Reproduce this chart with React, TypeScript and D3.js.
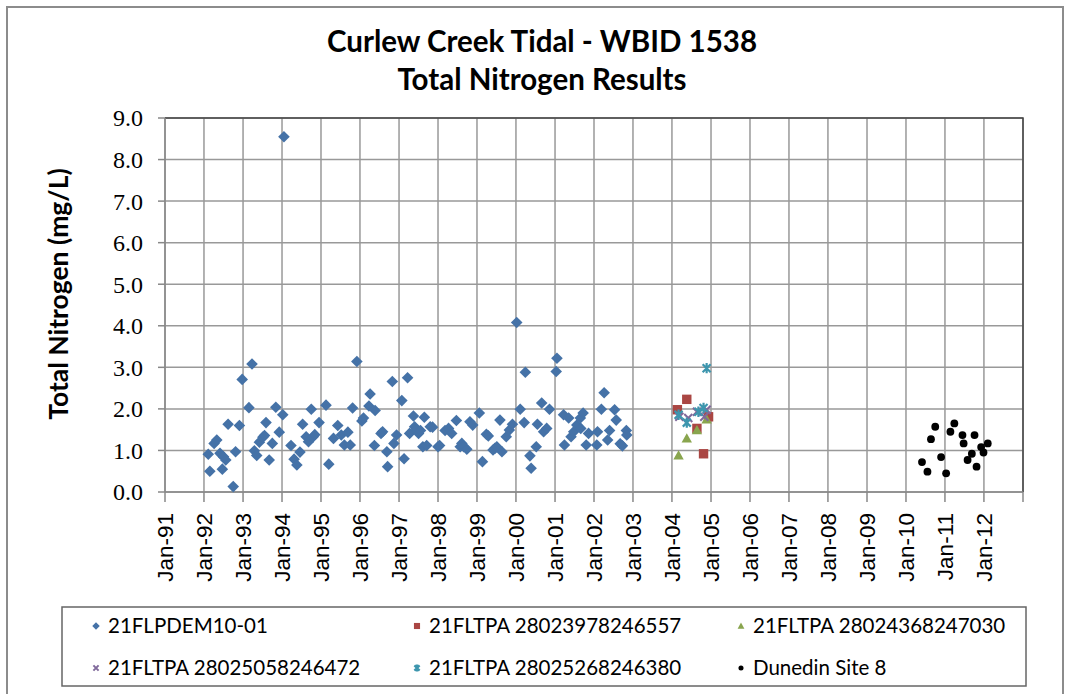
import * as d3 from "d3";

// [decimal year, mg/L]
const dem1001: [number, number][] = [
  [1992.11, 0.91], [1992.15, 0.5], [1992.26, 1.17], [1992.33, 1.25], [1992.41, 0.93],
  [1992.47, 0.55], [1992.5, 0.85], [1992.56, 0.77], [1992.62, 1.63], [1992.75, 0.13],
  [1992.81, 0.97], [1992.91, 1.6], [1992.98, 2.71], [1993.15, 2.03], [1993.23, 3.08],
  [1993.29, 0.99], [1993.35, 0.88], [1993.42, 1.2], [1993.51, 1.32], [1993.55, 1.36],
  [1993.59, 1.67], [1993.67, 0.77], [1993.75, 1.17], [1993.84, 2.04], [1993.93, 1.44],
  [1994.02, 1.86], [1994.05, 8.55], [1994.23, 1.12], [1994.31, 0.79], [1994.38, 0.65],
  [1994.46, 0.96], [1994.53, 1.63], [1994.62, 1.33], [1994.68, 1.21], [1994.75, 1.99],
  [1994.8, 1.33], [1994.84, 1.38], [1994.95, 1.67], [1995.13, 2.09], [1995.2, 0.67],
  [1995.32, 1.29], [1995.43, 1.6], [1995.52, 1.37], [1995.6, 1.13], [1995.69, 1.44],
  [1995.75, 1.13], [1995.81, 2.02], [1995.92, 3.14], [1996.05, 1.71], [1996.09, 1.78],
  [1996.23, 2.07], [1996.26, 2.36], [1996.37, 1.12], [1996.39, 1.96], [1996.54, 1.41],
  [1996.58, 1.45], [1996.69, 0.97], [1996.71, 0.61], [1996.83, 2.66], [1996.87, 1.17],
  [1996.94, 1.37], [1997.07, 2.2], [1997.13, 0.8], [1997.22, 2.75], [1997.27, 1.41],
  [1997.37, 1.83], [1997.4, 1.57], [1997.45, 1.5], [1997.5, 1.41], [1997.55, 1.48],
  [1997.61, 1.09], [1997.65, 1.8], [1997.71, 1.12], [1997.8, 1.57], [1997.86, 1.56],
  [1998.0, 1.09], [1998.04, 1.12], [1998.18, 1.48], [1998.27, 1.53], [1998.35, 1.41],
  [1998.47, 1.72], [1998.57, 1.09], [1998.61, 1.17], [1998.66, 1.09], [1998.74, 1.03],
  [1998.82, 1.69], [1998.89, 1.61], [1999.06, 1.9], [1999.14, 0.73], [1999.24, 1.39],
  [1999.29, 1.35], [1999.41, 1.01], [1999.46, 1.05], [1999.51, 1.09], [1999.59, 1.73],
  [1999.64, 0.97], [1999.75, 1.33], [1999.83, 1.49], [1999.91, 1.63], [2000.02, 4.08],
  [2000.11, 1.99], [2000.21, 1.67], [2000.24, 2.88], [2000.36, 0.87], [2000.39, 0.57],
  [2000.52, 1.09], [2000.55, 1.63], [2000.66, 2.14], [2000.71, 1.45], [2000.79, 1.53],
  [2000.86, 1.99], [2001.03, 2.9], [2001.05, 3.22], [2001.22, 1.86], [2001.24, 1.13],
  [2001.35, 1.78], [2001.41, 1.33], [2001.48, 1.45], [2001.56, 1.61], [2001.65, 1.78],
  [2001.66, 1.53], [2001.72, 1.9], [2001.8, 1.13], [2001.86, 1.41], [2002.07, 1.13],
  [2002.09, 1.45], [2002.19, 1.99], [2002.26, 2.39], [2002.35, 1.25], [2002.4, 1.48],
  [2002.53, 1.98], [2002.57, 1.73], [2002.67, 1.16], [2002.73, 1.11], [2002.83, 1.48],
  [2002.84, 1.37],
];
const tpa6557: [number, number][] = [
  [2004.14, 1.98], [2004.38, 2.23], [2004.64, 1.53], [2004.81, 0.92], [2004.94, 1.81],
];
const tpa7030: [number, number][] = [
  [2004.17, 0.88], [2004.38, 1.29], [2004.64, 1.49], [2004.89, 1.75],
];
const tpa6472: [number, number][] = [
  [2004.19, 1.81], [2004.42, 1.78], [2004.64, 1.93], [2004.83, 1.81], [2004.89, 1.98],
];
const tpa6380: [number, number][] = [
  [2004.17, 1.86], [2004.38, 1.67], [2004.68, 1.93], [2004.81, 2.02], [2004.89, 2.98],
];
const dunedin8: [number, number][] = [
  [2010.41, 0.72], [2010.55, 0.49], [2010.64, 1.27], [2010.75, 1.57], [2010.9, 0.84],
  [2011.03, 0.45], [2011.14, 1.45], [2011.24, 1.65], [2011.45, 1.37], [2011.48, 1.17],
  [2011.58, 0.77], [2011.69, 0.92], [2011.76, 1.37], [2011.81, 0.61], [2011.93, 1.08],
  [2011.99, 0.95], [2012.1, 1.17],
];

const seriesNames = [
  "21FLPDEM10-01",
  "21FLTPA 28023978246557",
  "21FLTPA 28024368247030",
  "21FLTPA 28025058246472",
  "21FLTPA 28025268246380",
  "Dunedin Site 8",
];
const yTicks = [0, 1, 2, 3, 4, 5, 6, 7, 8, 9];

const toDate = (yr: number) => {
  const y = Math.floor(yr);
  return new Date(y, 0, 1 + Math.round((yr - y) * 365));
};

const series = [
  { name: seriesNames[0], data: dem1001, shape: "diamond", color: "#4572A7" },
  { name: seriesNames[1], data: tpa6557, shape: "square", color: "#AA4643" },
  { name: seriesNames[2], data: tpa7030, shape: "triangle", color: "#89A54E" },
  { name: seriesNames[3], data: tpa6472, shape: "x", color: "#80699B" },
  { name: seriesNames[4], data: tpa6380, shape: "star", color: "#3D96AE" },
  { name: seriesNames[5], data: dunedin8, shape: "circle", color: "#000000" },
];

function Marker({ shape, color, s = 1 }: { shape: string; color: string; s?: number }) {
  if (shape === "diamond") {
    const r = 5.8 * s;
    return <path d={`M0,${-r}L${r},0L0,${r}L${-r},0Z`} fill={color} />;
  }
  if (shape === "square") {
    const r = 4.7 * s;
    return <rect x={-r} y={-r} width={2 * r} height={2 * r} fill={color} />;
  }
  if (shape === "triangle") {
    const r = 5.2 * s;
    return <path d={`M0,${-r}L${r},${r * 0.8}L${-r},${r * 0.8}Z`} fill={color} />;
  }
  if (shape === "x") {
    const r = 4 * s;
    return (
      <path d={`M${-r},${-r}L${r},${r}M${-r},${r}L${r},${-r}`} stroke={color} strokeWidth={2} />
    );
  }
  if (shape === "star") {
    const r = 4 * s;
    return (
      <path
        d={`M${-r},${-r}L${r},${r}M${-r},${r}L${r},${-r}M0,${-r * 1.3}L0,${r * 1.3}`}
        stroke={color}
        strokeWidth={2.2}
      />
    );
  }
  return <circle r={3.9 * s} fill={color} />;
}

export default function App() {
  const left = 165,
    right = 1023,
    top = 118,
    bottom = 492;

  const x = d3
    .scaleTime()
    .domain([new Date(1991, 0, 1), new Date(2013, 0, 1)])
    .range([left, right]);
  const y = d3.scaleLinear().domain([0, 9]).range([bottom, top]);

  const years = d3.timeYear.range(new Date(1991, 0, 1), new Date(2013, 0, 2));
  const fmt = d3.timeFormat("%b-%y");

  const legendCols = [96, 417, 741];
  const legendRows = [626, 668];

  return (
    <svg
      width={1070}
      height={694}
      style={{ position: "absolute", left: 0, top: 0, background: "#fff" }}
    >
      <rect x={7} y={7} width={1056} height={720} fill="#fff" stroke="#8c8c8c" strokeWidth={2} />

      {/* title */}
      <g fontFamily="Lato, 'Open Sans', sans-serif" fontWeight={700} fontSize={29.5} textAnchor="middle" fill="#000">
        <text x={542} y={52}>Curlew Creek Tidal  - WBID 1538</text>
        <text x={542} y={90}>Total Nitrogen Results</text>
      </g>

      {/* grid */}
      <g stroke="#999" strokeWidth={1.5}>
        {yTicks.map((t) => (
          <line key={"gy" + t} x1={left} x2={right} y1={y(t)} y2={y(t)} />
        ))}
        {years.map((d) => (
          <line key={"gx" + +d} x1={x(d)} x2={x(d)} y1={top} y2={bottom} />
        ))}
      </g>
      <path d={`M${left},${top}H${right}V${bottom}`} fill="none" stroke="#444" strokeWidth={1.5} />

      {/* axes */}
      <g stroke="#888" strokeWidth={1.5}>
        <line x1={left} x2={left} y1={top} y2={bottom} />
        <line x1={left} x2={right} y1={bottom} y2={bottom} />
        {yTicks.map((t) => (
          <line key={"ty" + t} x1={left - 7} x2={left} y1={y(t)} y2={y(t)} />
        ))}
        {years.map((d) => (
          <line key={"tx" + +d} x1={x(d)} x2={x(d)} y1={bottom} y2={bottom + 10} />
        ))}
      </g>
      <g fontFamily="'Liberation Serif', 'DejaVu Serif', serif" fontSize={24} textAnchor="end" fill="#000">
        {yTicks.map((t) => (
          <text key={"ly" + t} x={143} y={y(t)} dy="0.35em">
            {t.toFixed(1)}
          </text>
        ))}
      </g>
      <g fontFamily="'Liberation Sans', Arial, sans-serif" fontSize={22.5} textAnchor="end" fill="#000">
        {years.slice(0, -1).map((d) => (
          <text key={"lx" + +d} transform={`translate(${x(d) + 8},513) rotate(-90)`}>
            {fmt(d)}
          </text>
        ))}
      </g>
      <text
        transform="translate(68,294) rotate(-90)"
        textAnchor="middle"
        fontFamily="Lato, 'Open Sans', sans-serif"
        fontWeight={700}
        fontSize={26.5}
      >
        Total Nitrogen (mg/L)
      </text>

      {/* points */}
      {series.map((s) => (
        <g key={s.name}>
          {s.data.map(([yr, v], i) => (
            <g key={i} transform={`translate(${x(toDate(yr))},${y(v)})`}>
              <Marker shape={s.shape} color={s.color} />
            </g>
          ))}
        </g>
      ))}

      {/* legend */}
      <rect x={62} y={607} width={964} height={79} fill="#fff" stroke="#666" strokeWidth={1.5} />
      {series.map((s, i) => {
        const cx = legendCols[i % 3];
        const cy = legendRows[Math.floor(i / 3)];
        return (
          <g key={"lg" + i} transform={`translate(${cx},${cy})`}>
            <Marker shape={s.shape} color={s.color} s={0.65} />
            <text x={12} dy="0.35em" fontFamily="Lato, 'Open Sans', sans-serif" fontSize={20.5}>
              {s.name}
            </text>
          </g>
        );
      })}
    </svg>
  );
}
